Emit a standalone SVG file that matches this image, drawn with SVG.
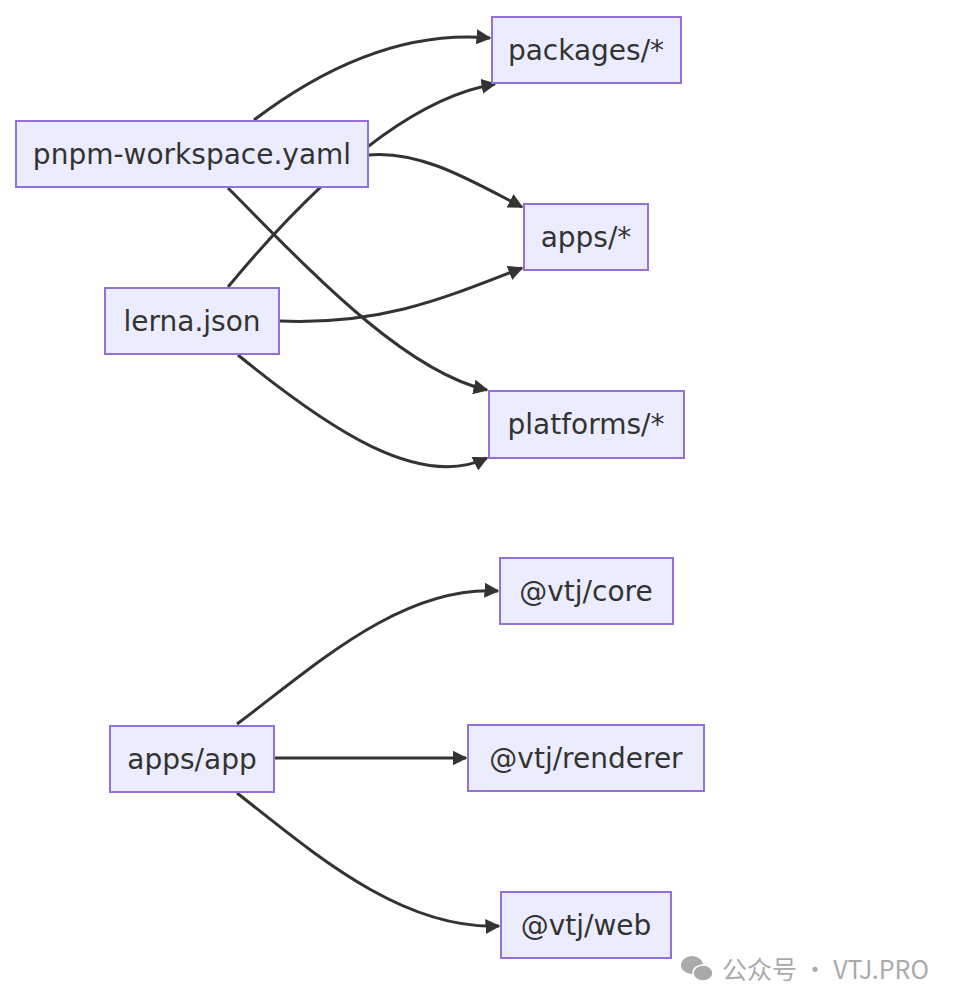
<svg xmlns="http://www.w3.org/2000/svg" width="968" height="1008" viewBox="0 0 968 1008">
<style>
.n rect{fill:#ececff;stroke:#9370db;stroke-width:2}
.n text{font-family:"DejaVu Sans",sans-serif;font-size:28px;fill:#333;text-anchor:middle;dominant-baseline:central}
.e path{fill:none;stroke:#333;stroke-width:3}
</style>
<defs><marker id="a" viewBox="0 0 10 10" refX="9" refY="5" markerWidth="5" markerHeight="5" orient="auto"><path d="M0,0L10,5L0,10z" fill="#333"/></marker></defs>
<rect width="968" height="1008" fill="#fff"/>
<g class="e">
<path d="M254,120 C320,70 400,30 490,38" marker-end="url(#a)"/>
<path d="M368,155 C420,150 470,180 522,207" marker-end="url(#a)"/>
<path d="M228,188 C300,260 400,370 487,390" marker-end="url(#a)"/>
<path d="M228,287 C300,200 400,100 495,84" marker-end="url(#a)"/>
<path d="M280,321 C380,325 440,300 522,268" marker-end="url(#a)"/>
<path d="M238,355 C330,430 420,490 487,458" marker-end="url(#a)"/>
<path d="M237,724 C310,670 400,585 498,591" marker-end="url(#a)"/>
<path d="M274,758 L466,758" marker-end="url(#a)"/>
<path d="M237,793 C310,850 400,930 499,926" marker-end="url(#a)"/>
</g>
<g id="packages" class="n"><rect x="492" y="17" width="189" height="66"/><text x="586" y="50">packages/*</text></g>
<g id="pnpm" class="n"><rect x="16" y="121" width="352" height="66"/><text x="192" y="154">pnpm-workspace.yaml</text></g>
<g id="apps" class="n"><rect x="524" y="204" width="124" height="66"/><text x="586" y="237">apps/*</text></g>
<g id="lerna" class="n"><rect x="105" y="288" width="174" height="66"/><text x="192" y="321">lerna.json</text></g>
<g id="platforms" class="n"><rect x="489" y="391" width="195" height="67"/><text x="586" y="424">platforms/*</text></g>
<g id="core" class="n"><rect x="500" y="558" width="173" height="66"/><text x="586" y="591">@vtj/core</text></g>
<g id="app" class="n"><rect x="110" y="726" width="164" height="66"/><text x="192" y="759">apps/app</text></g>
<g id="renderer" class="n"><rect x="468" y="725" width="236" height="66"/><text x="586" y="758">@vtj/renderer</text></g>
<g id="web" class="n"><rect x="501" y="892" width="170" height="66"/><text x="586" y="925">@vtj/web</text></g>
<g id="wm" fill="#aaa"><ellipse cx="692" cy="965" rx="11" ry="9"/><ellipse cx="703" cy="973" rx="10" ry="8" stroke="#fff" stroke-width="1.5"/>
<text x="722" y="979" font-family="'Noto Sans CJK SC',sans-serif" font-size="25">公众号 · VTJ.PRO</text></g>
</svg>
